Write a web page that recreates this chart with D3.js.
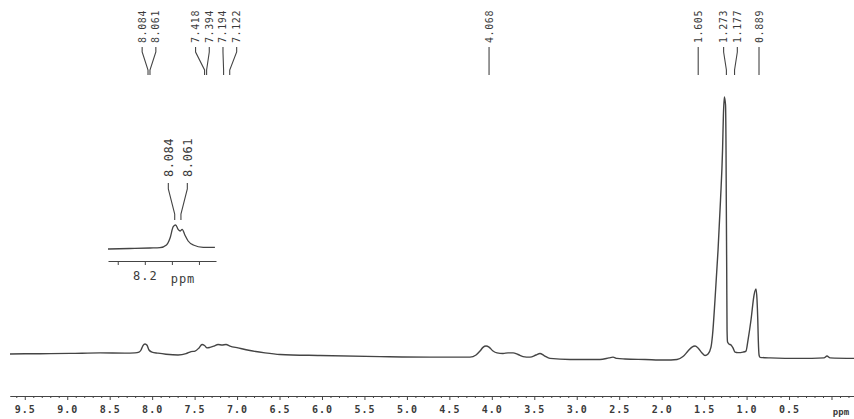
<!DOCTYPE html>
<html>
<head>
<meta charset="utf-8">
<script src="https://cdn.jsdelivr.net/npm/d3@7/dist/d3.min.js"></script>
<style>
  html, body { margin: 0; padding: 0; background: #fff; }
  svg { display: block; }
  .mono { font-family: "DejaVu Sans Mono", "Liberation Mono", monospace; fill: #3a3a3a; }
</style>
</head>
<body>
<svg id="chart" width="854" height="419"></svg>
<script>
// 1H NMR trace: chemical shift (ppm) and relative intensity
const shifts = [
  9.674, 9.32, 8.967, 8.614, 8.32, 8.202, 8.155, 8.131, 8.108, 8.084, 8.060, 8.037,
  8.002, 7.931, 7.837, 7.695, 7.601, 7.542, 7.495, 7.448, 7.413, 7.383, 7.354, 7.319,
  7.271, 7.224, 7.177, 7.130, 7.083, 6.989, 6.848, 6.671, 6.494, 6.023, 5.317, 4.728,
  4.257, 4.186, 4.139, 4.104, 4.068, 4.033, 3.986, 3.939, 3.868, 3.809, 3.750, 3.692,
  3.633, 3.550, 3.480, 3.433, 3.385, 3.315, 3.079, 2.726, 2.620, 2.573, 2.526, 2.432,
  2.196, 1.961, 1.819, 1.749, 1.690, 1.643, 1.607, 1.572, 1.525, 1.489, 1.454, 1.419,
  1.401, 1.372, 1.336, 1.307, 1.283, 1.273, 1.262, 1.248, 1.242, 1.239, 1.234, 1.230,
  1.224, 1.207, 1.183, 1.160, 1.136, 1.101, 1.042, 1.007, 0.983, 0.948, 0.912, 0.889,
  0.877, 0.868, 0.862, 0.853, 0.842, 0.724, 0.371, 0.088, 0.053, 0.017, -0.265
];
const intensity = [
  2.3, 2.4, 2.5, 2.7, 2.6, 2.7, 3.0, 3.8, 5.5, 6.1, 5.6, 3.8,
  3.0, 2.6, 2.2, 1.9, 2.4, 3.2, 3.4, 4.6, 5.9, 5.5, 4.6, 4.8,
  5.3, 5.9, 5.7, 5.9, 5.3, 4.6, 3.6, 2.7, 2.1, 1.7, 1.3, 1.1,
  1.1, 1.9, 3.4, 4.8, 5.3, 4.9, 3.4, 2.7, 2.5, 2.7, 2.7, 2.1,
  1.3, 1.1, 1.9, 2.5, 1.7, 0.6, 0.2, 0.2, 0.8, 1.1, 0.6, 0.4,
  0.2, 0.0, 0.2, 1.3, 3.4, 4.9, 5.3, 4.6, 2.7, 1.7, 2.3, 4.9,
  9.5, 22.8, 41.8, 60.8, 79.8, 93.0, 100, 97.0, 79.8, 60.8, 34.2, 11.4,
  6.8, 6.1, 5.7, 4.6, 3.0, 2.8, 3.0, 3.4, 7.6, 15.2, 24.7, 27.0,
  22.8, 15.2, 7.6, 1.9, 1.0, 0.8, 0.6, 0.8, 1.5, 0.8, 0.6
];

// Peak picks printed above the spectrum
const peakLabels = ["8.084", "8.061", "7.418", "7.394", "7.194", "7.122",
                    "4.068", "1.605", "1.273", "1.177", "0.889"];

// Main axis: labelled ticks every 0.5 ppm
const tickValues = [9.5, 9.0, 8.5, 8.0, 7.5, 7.0, 6.5, 6.0, 5.5, 5.0,
                    4.5, 4.0, 3.5, 3.0, 2.5, 2.0, 1.5, 1.0, 0.5];
const tickLabels = ["9.5", "9.0", "8.5", "8.0", "7.5", "7.0", "6.5", "6.0", "5.5", "5.0",
                    "4.5", "4.0", "3.5", "3.0", "2.5", "2.0", "1.5", "1.0", "0.5"];
const axisUnit = "ppm";

// Expanded view of the 8.1 ppm doublet
const insetShifts = [8.336, 8.256, 8.181, 8.144, 8.120, 8.107, 8.095, 8.086, 8.077,
                     8.069, 8.062, 8.052, 8.040, 8.021, 7.984, 7.941];
const insetIntensity = [0, 0.5, 1.0, 1.3, 4.0, 10.7, 22.3, 24.0, 19.7,
                        18.0, 19.7, 14.0, 8.0, 4.0, 1.7, 1.7];
const insetPeakLabels = ["8.084", "8.061"];
const insetTickValues = [8.3, 8.2, 8.1, 8.0];
const insetTickLabels = ["", "8.2", "", ""];
const insetUnit = "ppm";

const svg = d3.select("#chart");
const ink = "#444";

// ---------- main spectrum ----------
const x = d3.scaleLinear().domain([9.674, -0.265]).range([10, 854]);
const y = d3.scaleLinear().domain([0, 100]).range([360, 97]);

const pts = shifts.map((s, i) => [s, intensity[i]]);
svg.append("path")
  .datum(pts)
  .attr("fill", "none")
  .attr("stroke", ink)
  .attr("stroke-width", 1.4)
  .attr("stroke-linejoin", "round")
  .attr("d", d3.line().x(d => x(d[0])).y(d => y(d[1])).curve(d3.curveMonotoneX));

// ---------- axis ----------
const axisY = 396;
const minorTicks = d3.range(96, -3, -1).map(v => v / 10).filter(v => Math.abs(v * 2 - Math.round(v * 2)) > 1e-6);
const gMinor = svg.append("g").attr("transform", `translate(0,${axisY})`)
  .call(d3.axisBottom(x).tickValues(minorTicks).tickSize(2).tickSizeOuter(0).tickFormat(""));
const gMajor = svg.append("g").attr("transform", `translate(0,${axisY})`)
  .call(d3.axisBottom(x).tickValues(tickValues.concat([0.0])).tickSize(4).tickSizeOuter(0)
    .tickFormat(d => { const i = tickValues.indexOf(d); return i >= 0 ? tickLabels[i] : ""; }));
[gMinor, gMajor].forEach(g => {
  g.selectAll("path.domain").attr("stroke", ink).attr("stroke-width", 1.2);
  g.selectAll(".tick line").attr("stroke", ink).attr("stroke-width", 1);
});
gMajor.selectAll(".tick text")
  .attr("class", "mono")
  .attr("y", 10)
  .style("font-size", "10px")
  .style("letter-spacing", "1px")
  .style("font-weight", "bold")
  .attr("fill", "#3a3a3a");
svg.append("text").attr("class", "mono")
  .attr("x", 841).attr("y", 415)
  .attr("text-anchor", "middle")
  .style("font-size", "9px")
  .style("font-weight", "bold")
  .text(axisUnit);

// ---------- peak pick labels ----------
// spread labels so neighbouring texts keep a minimum gap
function spread(xs, gap) {
  let cl = xs.map(v => ({ n: 1, sum: v }));
  let merged = true;
  while (merged) {
    merged = false;
    for (let i = 0; i < cl.length - 1; i++) {
      const a = cl[i], b = cl[i + 1];
      const ar = a.sum / a.n + (a.n - 1) * gap / 2;
      const bl = b.sum / b.n - (b.n - 1) * gap / 2;
      if (bl - ar < gap) {
        cl.splice(i, 2, { n: a.n + b.n, sum: a.sum + b.sum });
        merged = true;
        break;
      }
    }
  }
  const out = [];
  cl.forEach(c => {
    const c0 = c.sum / c.n - (c.n - 1) * gap / 2;
    for (let k = 0; k < c.n; k++) out.push(c0 + k * gap);
  });
  return out;
}

function drawPicks(labels, scale, opts) {
  const peakX = labels.map(l => scale(+l) + opts.dx);
  const textX = spread(peakX, opts.gap);
  const g = svg.append("g");
  labels.forEach((l, i) => {
    const tx = textX[i], px = peakX[i];
    g.append("text").attr("class", "mono")
      .attr("transform", `translate(${tx},${opts.textBottom}) rotate(-90)`)
      .attr("dy", "0.35em")
      .style("font-size", opts.fontSize + "px")
      .style("letter-spacing", opts.spacing + "px")
      .text(l);
    g.append("path")
      .attr("fill", "none")
      .attr("stroke", ink)
      .attr("stroke-width", 1.1)
      .attr("d", d3.line()([
        [tx, opts.lineTop], [tx, opts.lineTop + opts.leg],
        [px, opts.lineBottom - opts.leg], [px, opts.lineBottom]
      ]));
  });
}

drawPicks(peakLabels, x, {
  dx: 3, gap: 13.7, textBottom: 43, fontSize: 10, spacing: 0.6,
  lineTop: 47, lineBottom: 75, leg: 5
});

// ---------- inset ----------
const xi = d3.scaleLinear().domain([8.336, 7.937]).range([108, 216]);
const yi = d3.scaleLinear().domain([0, 24]).range([249, 225]);
svg.append("path")
  .datum(insetShifts.map((s, i) => [s, insetIntensity[i]]))
  .attr("fill", "none")
  .attr("stroke", ink)
  .attr("stroke-width", 1.3)
  .attr("d", d3.line().x(d => xi(d[0])).y(d => yi(d[1])).curve(d3.curveMonotoneX));

const gi = svg.append("g").attr("transform", "translate(0,261)")
  .call(d3.axisBottom(xi).tickValues(insetTickValues).tickSize(4).tickSizeOuter(0)
    .tickFormat((d, i) => insetTickLabels[i]));
gi.selectAll("path.domain").attr("stroke", ink).attr("stroke-width", 1.2);
gi.selectAll(".tick line").attr("stroke", ink);
gi.selectAll(".tick text").attr("class", "mono").attr("y", 10)
  .style("font-size", "12px").style("letter-spacing", "1px");
svg.append("text").attr("class", "mono")
  .attr("x", 183).attr("y", 283).attr("text-anchor", "middle")
  .style("font-size", "12px").style("letter-spacing", "1px")
  .text(insetUnit);

drawPicks(insetPeakLabels, xi, {
  dx: -1.5, gap: 19, textBottom: 177, fontSize: 12, spacing: 0.6,
  lineTop: 183, lineBottom: 220, leg: 6
});
</script>
</body>
</html>
